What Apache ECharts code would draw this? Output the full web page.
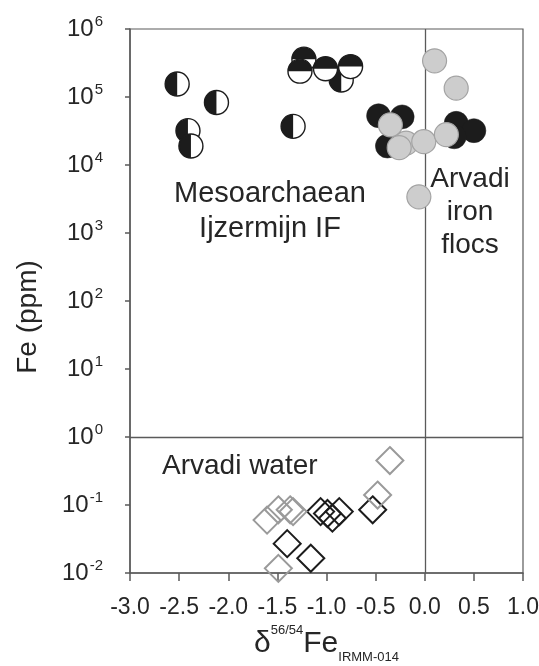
<!DOCTYPE html>
<html>
<head>
<meta charset="utf-8">
<script src="https://cdn.jsdelivr.net/npm/echarts@6/dist/echarts.min.js"></script>
<style>
  html, body { margin: 0; padding: 0; background: #fff; }
  #chart { width: 539px; height: 666px; }
</style>
</head>
<body>
<div id="chart"></div>
<script>
// Mesoarchaean Ijzermijn IF (half-filled circles): δ56/54Fe, Fe (ppm), split direction
const ijzX  = [-2.52, -2.12, -2.41, -2.38, -1.34, -0.85, -1.23, -1.27, -1.01, -0.755];
const ijzFe = [1.55e5, 8.3e4, 3.2e4, 1.9e4, 3.7e4, 1.78e5, 3.6e5, 2.4e5, 2.6e5, 2.8e5];
const ijzSplit = ['v', 'v', 'v', 'v', 'v', 'v', 'h', 'h', 'h', 'h'];

// Arvadi iron flocs: black and grey circles
const flocBlackX  = [-0.47, -0.23, -0.38, 0.32, 0.50, 0.30];
const flocBlackFe = [5.3e4, 5.1e4, 1.9e4, 4.1e4, 3.2e4, 2.6e4];
const flocGreyX   = [0.10, 0.32, -0.35, -0.19, -0.26, -0.01, 0.22, -0.06];
const flocGreyFe  = [3.4e5, 1.35e5, 3.9e4, 2.1e4, 1.8e4, 2.2e4, 2.8e4, 3.4e3];

// Arvadi water: black and grey diamonds
const waterBlackX  = [-1.06, -0.99, -0.94, -0.87, -0.53, -1.40, -1.16];
const waterBlackFe = [0.080, 0.075, 0.064, 0.080, 0.085, 0.027, 0.0165];
const waterGreyX   = [-0.355, -0.48, -1.605, -1.49, -1.37, -1.34, -1.49];
const waterGreyFe  = [0.45, 0.14, 0.060, 0.085, 0.085, 0.080, 0.0117];

// Axis ranges
const xMin = -3.0, xMax = 1.0, xStep = 0.5;
const yMin = 1e-2, yMax = 1e6;

const FONT = '"Liberation Sans", Arial, sans-serif';
const INK = '#262626';
const AXIS = '#5a5a5a';

const zip = (xs, ys) => xs.map((x, i) => [x, ys[i]]);

const chart = echarts.init(document.getElementById('chart'), null, { renderer: 'canvas' });

const halfCircle = {
  type: 'custom',
  name: 'Ijzermijn IF',
  data: ijzX.map((x, i) => [x, ijzFe[i], ijzSplit[i] === 'h' ? 1 : 0]),
  renderItem: function (params, api) {
    const p = api.coord([api.value(0), api.value(1)]);
    const r = 12;
    const horizontal = api.value(2) === 1;
    // left half for vertical split, top half for horizontal split
    const start = horizontal ? Math.PI : Math.PI / 2;
    const end = horizontal ? Math.PI * 2 : Math.PI * 1.5;
    return {
      type: 'group',
      children: [
        { type: 'circle', shape: { cx: p[0], cy: p[1], r: r },
          style: { fill: '#fff', stroke: 'none' } },
        { type: 'sector', shape: { cx: p[0], cy: p[1], r0: 0, r: r, startAngle: start, endAngle: end, clockwise: true },
          style: { fill: '#1c1c1c', stroke: 'none' } },
        { type: 'circle', shape: { cx: p[0], cy: p[1], r: r },
          style: { fill: 'none', stroke: '#1c1c1c', lineWidth: 1.4 } }
      ]
    };
  },
  z: 3
};

const option = {
  animation: false,
  backgroundColor: '#fff',
  grid: {
    left: 130, right: 16, top: 29, bottom: 93,
    containLabel: false, outerBoundsMode: 'none',
    show: true, borderColor: AXIS, borderWidth: 1.2, backgroundColor: 'transparent'
  },
  xAxis: {
    type: 'value', min: xMin, max: xMax, interval: xStep,
    axisLine: { show: true, onZero: false, lineStyle: { color: AXIS, width: 1.5 } },
    axisTick: { show: true, inside: false, length: 8, lineStyle: { color: AXIS, width: 1.5 } },
    splitLine: { show: false },
    axisLabel: {
      margin: 23, color: INK, fontFamily: FONT, fontSize: 23,
      formatter: v => v.toFixed(1)
    },
    name: '{d|δ}{sup|56/54}{fe|Fe}{sub|IRMM-014}',
    nameLocation: 'middle', nameGap: 47,
    nameTextStyle: {
      fontFamily: FONT, color: INK,
      rich: {
        d:   { fontFamily: FONT, fontSize: 30, color: INK, lineHeight: 40 },
        sup: { fontFamily: FONT, fontSize: 13, color: INK, lineHeight: 40, verticalAlign: 'top', padding: [0, 0, 22, 0] },
        fe:  { fontFamily: FONT, fontSize: 30, color: INK, lineHeight: 40 },
        sub: { fontFamily: FONT, fontSize: 13, color: INK, lineHeight: 40, verticalAlign: 'bottom', padding: [12, 0, 0, 0] }
      }
    }
  },
  yAxis: {
    type: 'log', logBase: 10, min: yMin, max: yMax, interval: 1,
    axisLine: { show: true, onZero: false, lineStyle: { color: AXIS, width: 1.5 } },
    axisTick: { show: true, inside: false, length: 5, lineStyle: { color: AXIS, width: 1.5 } },
    minorTick: { show: false },
    splitLine: { show: false },
    axisLabel: {
      margin: 27,
      formatter: v => '{b|10}{s|' + Math.round(Math.log10(v)) + '}',
      rich: {
        b: { fontFamily: FONT, fontSize: 24, color: INK, lineHeight: 30 },
        s: { fontFamily: FONT, fontSize: 15, color: INK, lineHeight: 30, verticalAlign: 'top', padding: [0, 0, 14, 1] }
      }
    }
  },
  series: [
    {
      type: 'scatter', name: 'reference lines', data: [], silent: true,
      markLine: {
        silent: true, symbol: 'none', animation: false,
        label: { show: false },
        lineStyle: { color: AXIS, width: 1.3, type: 'solid' },
        data: [ { yAxis: 1 }, { xAxis: 0 } ]
      }
    },
    halfCircle,
    {
      type: 'scatter', name: 'Arvadi flocs (black)', data: zip(flocBlackX, flocBlackFe),
      symbol: 'circle', symbolSize: 24,
      itemStyle: { color: '#1c1c1c', borderColor: '#1c1c1c', borderWidth: 0.5, opacity: 1 }, z: 4
    },
    {
      type: 'scatter', name: 'Arvadi flocs (grey)', data: zip(flocGreyX, flocGreyFe),
      symbol: 'circle', symbolSize: 24,
      itemStyle: { color: '#cdcdcd', borderColor: '#a3a3a3', borderWidth: 1.2, opacity: 1 }, z: 5
    },
    {
      type: 'scatter', name: 'Arvadi water (black)', data: zip(waterBlackX, waterBlackFe),
      symbol: 'diamond', symbolSize: [27, 27],
      itemStyle: { color: 'rgba(0,0,0,0)', borderColor: '#1c1c1c', borderWidth: 2, opacity: 1 }, z: 4
    },
    {
      type: 'scatter', name: 'Arvadi water (grey)', data: zip(waterGreyX, waterGreyFe),
      symbol: 'diamond', symbolSize: [27, 27],
      itemStyle: { color: 'rgba(0,0,0,0)', borderColor: '#9a9a9a', borderWidth: 2, opacity: 1 }, z: 5
    }
  ],
  // Axis title and field annotations
  graphic: [
    { type: 'text', id: 'ytitle', x: 28, y: 317, rotation: Math.PI / 2, z: 10,
      style: { text: 'Fe (ppm)', fill: INK, font: '28px ' + FONT, align: 'center', verticalAlign: 'middle' } },
    { type: 'text', id: 'ijz', x: 270, y: 211, z: 10,
      style: { text: 'Mesoarchaean\nIjzermijn IF', fill: INK, font: '29px ' + FONT, lineHeight: 35,
               align: 'center', verticalAlign: 'middle' } },
    { type: 'text', id: 'flocs', x: 470, y: 212, z: 10,
      style: { text: 'Arvadi\niron\nflocs', fill: INK, font: '28px ' + FONT, lineHeight: 33,
               align: 'center', verticalAlign: 'middle' } },
    { type: 'text', id: 'water', x: 162, y: 466, z: 10,
      style: { text: 'Arvadi water', fill: INK, font: '28px ' + FONT,
               align: 'left', verticalAlign: 'middle' } }
  ]
};

chart.setOption(option);
</script>
</body>
</html>
